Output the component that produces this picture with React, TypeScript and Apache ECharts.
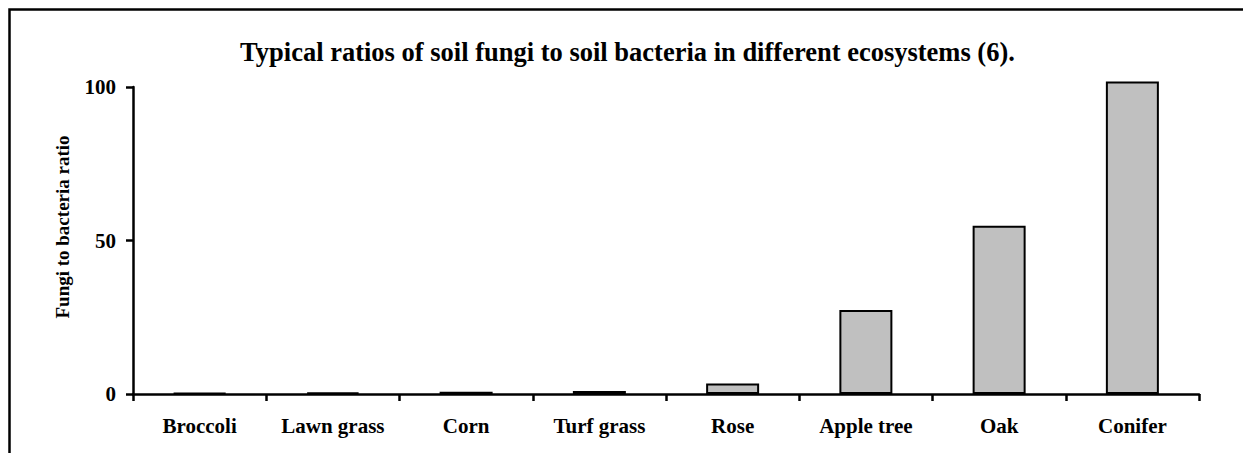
import React, { useEffect, useRef } from "react";
import * as echarts from "echarts";

const categories = ["Broccoli", "Lawn grass", "Corn", "Turf grass", "Rose", "Apple tree", "Oak", "Conifer"];
const ratios = [0.3, 0.5, 0.7, 1.0, 3.4, 27.4, 54.8, 101.8];
const yTicks = { min: 0, max: 100, interval: 50 };
const titleText = "Typical ratios of soil fungi to soil bacteria in different ecosystems (6).";
const yName = "Fungi to bacteria ratio";

const FONT = "'Liberation Serif', 'Times New Roman', serif";

export default function App() {
  const ref = useRef<HTMLDivElement>(null);
  useEffect(() => {
    if (!ref.current) return;
    const chart = echarts.init(ref.current, null, { renderer: "svg" });
    chart.setOption({
      animation: false,
      backgroundColor: "#ffffff",
      grid: { left: 133, right: 44, top: 87, bottom: 59, containLabel: false },
      xAxis: {
        type: "category",
        data: categories,
        boundaryGap: true,
        axisLine: { lineStyle: { color: "#000", width: 2.5 } },
        axisTick: { show: true, length: 7, interval: 0, lineStyle: { color: "#000", width: 2.5 } },
        axisLabel: {
          interval: 0,
          margin: 21,
          color: "#000",
          fontFamily: FONT,
          fontWeight: "bold",
          fontSize: 21,
        },
        splitLine: { show: false },
      },
      yAxis: {
        type: "value",
        min: yTicks.min,
        max: yTicks.max,
        interval: yTicks.interval,
        axisLine: { show: true, lineStyle: { color: "#000", width: 2.5 } },
        axisTick: { show: true, length: 7, lineStyle: { color: "#000", width: 2.5 } },
        axisLabel: {
          margin: 17,
          color: "#000",
          fontFamily: FONT,
          fontWeight: "bold",
          fontSize: 21,
        },
        splitLine: { show: false },
      },
      series: [
        {
          type: "bar",
          data: ratios,
          barWidth: 53,
          clip: false,
          itemStyle: { color: "#c0c0c0", borderColor: "#000", borderWidth: 2 },
        },
      ],
      graphic: [
        {
          type: "polyline",
          shape: { points: [[9.5, 470], [9.5, 9.5], [1260, 9.5]] },
          style: { fill: "none", stroke: "#000", lineWidth: 2.5 },
          silent: true,
        },
        {
          type: "text",
          x: 627.5,
          y: 52,
          style: {
            text: titleText,
            fill: "#000",
            font: `bold 26.5px ${FONT}`,
            textAlign: "center",
            textVerticalAlign: "middle",
          },
        },
        {
          type: "text",
          x: 62.5,
          y: 227,
          rotation: Math.PI / 2,
          style: {
            text: yName,
            fill: "#000",
            font: `bold 19px ${FONT}`,
            textAlign: "center",
            textVerticalAlign: "middle",
          },
        },
      ],
    });
    return () => chart.dispose();
  }, []);
  return (
    <div
      ref={ref}
      style={{ position: "fixed", left: 0, top: 0, width: 1243, height: 453 }}
    />
  );
}
